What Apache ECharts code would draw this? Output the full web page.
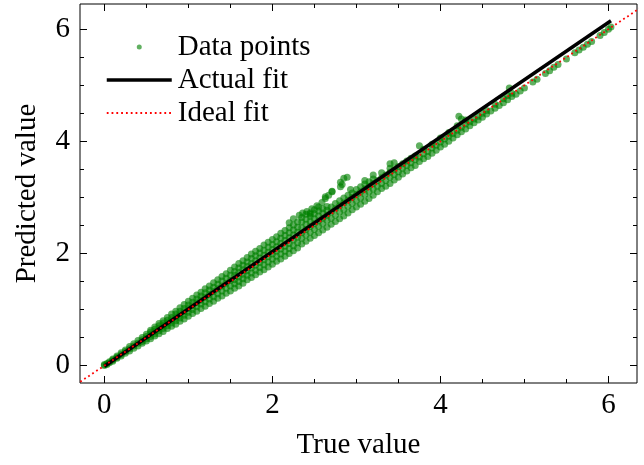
<!DOCTYPE html>
<html>
<head>
<meta charset="utf-8">
<script src="https://cdn.jsdelivr.net/npm/echarts@6/dist/echarts.min.js"></script>
<style>
  html, body { margin: 0; padding: 0; background: #fff; }
  #main { width: 644px; height: 465px; }
</style>
</head>
<body>
<div id="main"></div>
<script>
// tick positions
const xMajor = [0, 2, 4, 6]
const xMinor = [0.5, 1, 1.5, 2.5, 3, 3.5, 4.5, 5, 5.5]
const yMajor = [0, 2, 4, 6]
const yMinor = [0.5, 1, 1.5, 2.5, 3, 3.5, 4.5, 5, 5.5]

// scatter: [true value, [predicted values]]
const denseBand = [
  [0.00, [0.00, 0.02]],
  [0.03, [0.02, 0.04]],
  [0.06, [0.05, 0.07]],
  [0.10, [0.08, 0.10, 0.12]],
  [0.15, [0.13, 0.15, 0.17]],
  [0.20, [0.17, 0.20, 0.23]],
  [0.25, [0.22, 0.25, 0.28]],
  [0.30, [0.26, 0.30, 0.34]],
  [0.35, [0.31, 0.35, 0.39]],
  [0.40, [0.35, 0.40, 0.45]],
  [0.45, [0.40, 0.43, 0.46, 0.50]],
  [0.50, [0.44, 0.48, 0.52, 0.56]],
  [0.55, [0.48, 0.52, 0.56, 0.60, 0.63]],
  [0.60, [0.53, 0.57, 0.61, 0.65, 0.69]],
  [0.65, [0.57, 0.62, 0.66, 0.71, 0.75]],
  [0.70, [0.61, 0.66, 0.71, 0.76, 0.80]],
  [0.75, [0.66, 0.71, 0.76, 0.81, 0.86]],
  [0.80, [0.70, 0.76, 0.81, 0.86, 0.92]],
  [0.85, [0.74, 0.80, 0.86, 0.92, 0.97]],
  [0.90, [0.79, 0.85, 0.91, 0.97, 1.03]],
  [0.95, [0.83, 0.90, 0.96, 1.02, 1.09]],
  [1.00, [0.88, 0.95, 1.02, 1.08, 1.15]],
  [1.05, [0.93, 1.00, 1.07, 1.13, 1.20]],
  [1.10, [0.97, 1.05, 1.12, 1.19, 1.26]],
  [1.15, [1.02, 1.10, 1.17, 1.24, 1.31]],
  [1.20, [1.06, 1.14, 1.22, 1.30, 1.37]],
  [1.25, [1.11, 1.19, 1.27, 1.35, 1.42]],
  [1.30, [1.15, 1.23, 1.32, 1.40, 1.48]],
  [1.35, [1.20, 1.28, 1.37, 1.45, 1.53]],
  [1.40, [1.24, 1.33, 1.42, 1.51, 1.59]],
  [1.45, [1.29, 1.38, 1.47, 1.56, 1.64]],
  [1.50, [1.33, 1.42, 1.52, 1.61, 1.70]],
  [1.55, [1.38, 1.46, 1.53, 1.61, 1.68, 1.76]],
  [1.60, [1.42, 1.50, 1.58, 1.66, 1.74, 1.82]],
  [1.65, [1.47, 1.55, 1.63, 1.71, 1.79, 1.87]],
  [1.70, [1.53, 1.61, 1.69, 1.77, 1.85, 1.93]],
  [1.75, [1.57, 1.65, 1.74, 1.82, 1.91, 1.99]],
  [1.80, [1.62, 1.70, 1.79, 1.87, 1.96, 2.04]],
  [1.85, [1.67, 1.75, 1.84, 1.92, 2.01, 2.09]],
  [1.90, [1.71, 1.80, 1.89, 1.97, 2.06, 2.15]],
  [1.95, [1.76, 1.85, 1.94, 2.02, 2.11, 2.20]],
  [2.00, [1.81, 1.90, 1.99, 2.07, 2.16, 2.25]],
  [2.05, [1.86, 1.95, 2.04, 2.12, 2.21, 2.30]],
  [2.10, [1.90, 1.99, 2.08, 2.18, 2.27, 2.36]],
  [2.15, [1.95, 2.04, 2.13, 2.23, 2.32, 2.41]],
  [2.20, [2.00, 2.09, 2.18, 2.28, 2.37, 2.46]],
  [2.25, [2.05, 2.14, 2.24, 2.33, 2.42, 2.51]],
  [2.30, [2.10, 2.19, 2.29, 2.38, 2.47, 2.56]],
  [2.35, [2.17, 2.27, 2.37, 2.46, 2.56, 2.64]],
  [2.40, [2.22, 2.33, 2.43, 2.52, 2.61, 2.70]],
  [2.45, [2.27, 2.38, 2.48, 2.57, 2.66, 2.72]],
  [2.50, [2.32, 2.43, 2.53, 2.62, 2.71]],
  [2.55, [2.37, 2.48, 2.58, 2.67, 2.76]],
  [2.60, [2.42, 2.53, 2.63, 2.72, 2.80]],
  [2.65, [2.47, 2.59, 2.68, 2.77, 2.84]],
  [2.70, [2.52, 2.63, 2.74, 2.83]],
  [2.75, [2.57, 2.68, 2.80, 2.89]],
  [2.80, [2.62, 2.74, 2.85, 2.94]],
  [2.85, [2.67, 2.78, 2.90, 2.99]],
  [2.90, [2.72, 2.84, 2.95, 3.04]],
  [2.95, [2.78, 2.89, 3.00, 3.08]],
  [3.00, [2.83, 2.94, 3.05, 3.14]],
  [3.05, [2.88, 2.99, 3.10, 3.19]],
  [3.10, [2.93, 3.05, 3.15, 3.24]],
  [3.15, [2.98, 3.10, 3.20, 3.28]],
  [3.20, [3.04, 3.15, 3.25, 3.33]]
]

const sparseBand = [
  [3.25, [3.10, 3.20, 3.30]],
  [3.30, [3.16, 3.25, 3.35, 3.44]],
  [3.35, [3.20, 3.30, 3.40]],
  [3.40, [3.25, 3.36, 3.45, 3.52]],
  [3.45, [3.31, 3.41, 3.50]],
  [3.50, [3.36, 3.46, 3.55]],
  [3.55, [3.42, 3.52, 3.60]],
  [3.60, [3.47, 3.57, 3.65]],
  [3.65, [3.53, 3.62, 3.70]],
  [3.70, [3.57, 3.67, 3.74]],
  [3.75, [3.64, 3.72]],
  [3.80, [3.69, 3.78, 3.86]],
  [3.85, [3.73, 3.82]],
  [3.90, [3.79, 3.88, 3.95]],
  [3.95, [3.84, 3.93]],
  [4.00, [3.90, 3.99, 4.06]],
  [4.05, [3.95, 4.04]],
  [4.10, [4.00, 4.09, 4.16]],
  [4.15, [4.06, 4.14]],
  [4.20, [4.12, 4.20, 4.28]],
  [4.25, [4.17, 4.25]],
  [4.30, [4.22, 4.31, 4.38]],
  [4.35, [4.28, 4.35]],
  [4.40, [4.33, 4.40]],
  [4.45, [4.38, 4.45]],
  [4.50, [4.43, 4.50]],
  [4.55, [4.49, 4.55]],
  [4.60, [4.54]],
  [4.65, [4.59, 4.66]],
  [4.70, [4.64]],
  [4.75, [4.69, 4.76]],
  [4.80, [4.74, 4.82]],
  [4.85, [4.80, 4.86]],
  [4.90, [4.84]],
  [4.95, [4.90]],
  [5.00, [4.95]],
  [5.10, [5.06]],
  [5.15, [5.11]],
  [5.25, [5.21]],
  [5.30, [5.26]],
  [5.35, [5.32]],
  [5.40, [5.37]],
  [5.50, [5.47]],
  [5.60, [5.58]],
  [5.65, [5.63]],
  [5.70, [5.68]],
  [5.75, [5.73]],
  [5.80, [5.78]],
  [5.90, [5.89]],
  [5.95, [5.94]],
  [6.00, [6.00]],
  [6.03, [6.04]]
]

const outliers = [
  [2.20, 2.55], [2.25, 2.62], [2.32, 2.68], [2.36, 2.72], [2.41, 2.75],
  [2.45, 2.70], [2.47, 2.80], [2.50, 2.78], [2.53, 2.85], [2.55, 2.83],
  [2.59, 2.91], [2.63, 2.98], [2.63, 3.01], [2.67, 3.04], [2.71, 3.10],
  [2.71, 3.11], [2.81, 3.19], [2.81, 3.27], [2.83, 3.23], [2.85, 3.34],
  [2.89, 3.36], [2.93, 3.14], [3.10, 3.30], [3.20, 3.40], [3.40, 3.60],
  [3.45, 3.62], [3.75, 3.92], [4.22, 4.45], [4.25, 4.40], [4.82, 4.95]
]

// fitted and ideal lines
const fitX = [0, 6.03]
const fitY = [-0.01, 6.15]
const idealX = [-1, 7]
const idealY = [-1, 7]

const serif = 'Liberation Serif'

function flatten(rows) {
  let out = []
  rows.forEach(r => r[1].forEach(v => out.push([r[0], v])))
  return out
}

const scatterData = flatten(denseBand).concat(flatten(sparseBand), outliers)

function tickAxis(position, values, len, label, range) {
  return {
    type: 'value',
    position: position,
    min: range[0],
    max: range[1],
    axisLine: { show: false, onZero: false },
    splitLine: { show: false },
    axisTick: {
      show: true,
      inside: true,
      length: len,
      customValues: values,
      lineStyle: { color: '#000', width: 1 }
    },
    axisLabel: label ? {
      show: true,
      customValues: values,
      color: '#000',
      fontFamily: serif,
      fontSize: 29,
      margin: position === 'bottom' ? 8 : 10
    } : { show: false }
  }
}

const xRange = [-0.29, 6.34]
const yRange = [-0.31, 6.45]

let xAxes = [
  tickAxis('bottom', xMajor, 7, true, xRange),
  tickAxis('bottom', xMinor, 4, false, xRange),
  tickAxis('top', xMajor, 7, false, xRange),
  tickAxis('top', xMinor, 4, false, xRange)
]
xAxes[0].name = 'True value'
xAxes[0].nameLocation = 'middle'
xAxes[0].nameGap = 48
xAxes[0].nameTextStyle = { color: '#000', fontFamily: serif, fontSize: 29 }

let yAxes = [
  tickAxis('left', yMajor, 7, true, yRange),
  tickAxis('left', yMinor, 4, false, yRange),
  tickAxis('right', yMajor, 7, false, yRange),
  tickAxis('right', yMinor, 4, false, yRange)
]
yAxes[0].name = 'Predicted value'
yAxes[0].nameLocation = 'middle'
yAxes[0].nameGap = 38
yAxes[0].nameTextStyle = { color: '#000', fontFamily: serif, fontSize: 29 }

let myChart = echarts.init(document.getElementById('main'))
let option = {
  animation: false,
  backgroundColor: '#fff',
  grid: {
    left: 80,
    right: 7,
    top: 4,
    bottom: 79,
    show: true,
    borderColor: '#000',
    borderWidth: 1,
    backgroundColor: 'transparent'
  },
  legend: {
    orient: 'vertical',
    left: 100,
    top: 27,
    itemWidth: 65,
    itemHeight: 5,
    itemGap: 3,
    textStyle: { color: '#000', fontFamily: serif, fontSize: 29, lineHeight: 30, padding: [0, 0, 0, 1] },
    data: [
      { name: 'Data points', icon: 'circle' },
      { name: 'Actual fit', itemStyle: { opacity: 0 }, lineStyle: { width: 3.5 } },
      { name: 'Ideal fit', itemStyle: { opacity: 0 }, lineStyle: { width: 1.8 } }
    ]
  },
  xAxis: xAxes,
  yAxis: yAxes,
  series: [
    {
      name: 'Data points',
      type: 'scatter',
      symbolSize: 7,
      itemStyle: { color: 'rgba(0,128,0,0.78)' },
      data: scatterData,
      z: 2
    },
    {
      name: 'Actual fit',
      type: 'line',
      symbol: 'none',
      itemStyle: { color: '#000' },
      lineStyle: { color: '#000', width: 3.5 },
      data: fitX.map((x, i) => [x, fitY[i]]),
      z: 3
    },
    {
      name: 'Ideal fit',
      type: 'line',
      symbol: 'none',
      clip: true,
      itemStyle: { color: '#ff0000' },
      lineStyle: { color: '#ff0000', width: 1.8, type: [1.8, 3] },
      data: idealX.map((x, i) => [x, idealY[i]]),
      z: 4
    }
  ]
}
myChart.setOption(option)
</script>
</body>
</html>
